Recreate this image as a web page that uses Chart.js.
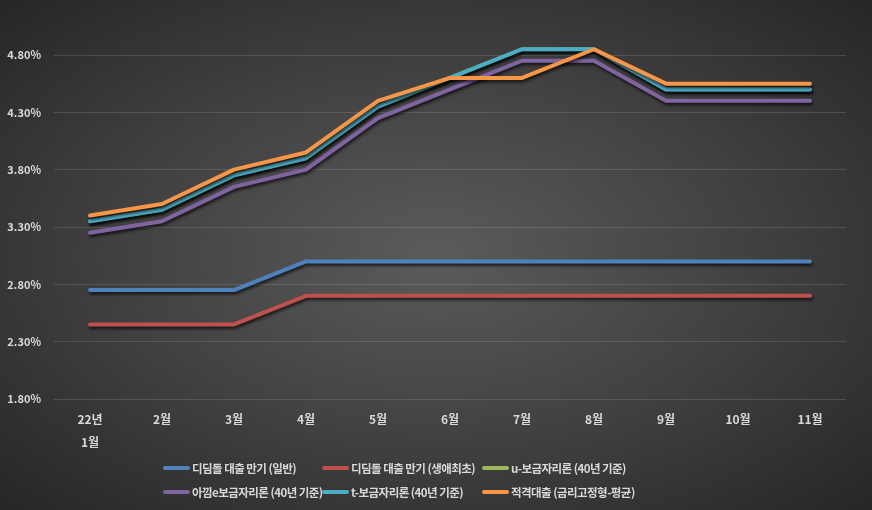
<!DOCTYPE html>
<html>
<head>
<meta charset="utf-8">
<script src="https://cdn.jsdelivr.net/npm/chart.js@4"></script>
<style>
  html, body { margin: 0; padding: 0; }
  body {
    width: 872px; height: 510px; overflow: hidden; position: relative;
    background: radial-gradient(ellipse farthest-corner at 50% 50%, #5b5b5b 0%, #3f3f3f 55%, #262626 100%);
    font-family: "Noto Sans CJK KR", "Noto Sans", sans-serif;
  }
  #wrap { position: absolute; left: 0; top: 0; width: 872px; height: 510px; }
  #legend { position: absolute; left: 0; top: 0; width: 872px; height: 510px; pointer-events: none; }
  .item { position: absolute; display: flex; align-items: center; height: 16px; color: #d9d9d9;
          font-weight: 700; font-size: 11.5px; letter-spacing: -0.55px; white-space: nowrap; }
  .swatch { width: 27px; height: 4px; border-radius: 2px; margin-right: 2px; }
</style>
</head>
<body>
<div id="wrap"><canvas id="c" width="872" height="510"></canvas></div>
<div id="legend"></div>
<script>
const categories = [["22년", "1월"], "2월", "3월", "4월", "5월", "6월", "7월", "8월", "9월", "10월", "11월"];
const seriesNames = [
  "디딤돌 대출 만기 (일반)",
  "디딤돌 대출 만기 (생애최초)",
  "u-보금자리론 (40년 기준)",
  "아낌e보금자리론 (40년 기준)",
  "t-보금자리론 (40년 기준)",
  "적격대출 (금리고정형-평균)"
];
const didimGeneral = [2.75, 2.75, 2.75, 3.00, 3.00, 3.00, 3.00, 3.00, 3.00, 3.00, 3.00];
const didimFirst   = [2.45, 2.45, 2.45, 2.70, 2.70, 2.70, 2.70, 2.70, 2.70, 2.70, 2.70];
const uBogeum      = [3.35, 3.45, 3.75, 3.90, 4.35, 4.60, 4.85, 4.85, 4.50, 4.50, 4.50];
const akkimE       = [3.25, 3.35, 3.65, 3.80, 4.25, 4.50, 4.75, 4.75, 4.40, 4.40, 4.40];
const tBogeum      = [3.35, 3.45, 3.75, 3.90, 4.35, 4.60, 4.85, 4.85, 4.50, 4.50, 4.50];
const jeokgyeok    = [3.40, 3.50, 3.80, 3.95, 4.40, 4.60, 4.60, 4.85, 4.55, 4.55, 4.55];
const yTickValues  = [1.8, 2.3, 2.8, 3.3, 3.8, 4.3, 4.8];
const yTickLabels  = ["1.80%", "2.30%", "2.80%", "3.30%", "3.80%", "4.30%", "4.80%"];

const seriesData = [didimGeneral, didimFirst, uBogeum, akkimE, tBogeum, jeokgyeok];
const colors = ["#4F81BD", "#C0504D", "#9BBB59", "#8064A2", "#4BACC6", "#F79646"];
const fontFamily = '"Noto Sans CJK KR", "Noto Sans", sans-serif';

const shadowPlugin = {
  id: 'lineShadow',
  beforeDatasetsDraw(chart) {
    const ctx = chart.ctx;
    ctx.save();
    ctx.shadowColor = 'rgba(0,0,0,0.65)';
    ctx.shadowBlur = 3;
    ctx.shadowOffsetX = 1;
    ctx.shadowOffsetY = 2.5;
  },
  afterDatasetsDraw(chart) { chart.ctx.restore(); }
};

const chart = new Chart(document.getElementById('c'), {
  type: 'line',
  data: {
    labels: categories,
    datasets: seriesData.map((d, i) => ({
      label: seriesNames[i],
      data: d,
      borderColor: colors[i],
      backgroundColor: colors[i],
      borderWidth: 4,
      pointRadius: 0,
      pointHoverRadius: 0,
      tension: 0,
      fill: false,
      clip: false,
      order: seriesData.length - i,
      borderJoinStyle: 'round',
      borderCapStyle: 'round'
    }))
  },
  options: {
    responsive: false,
    animation: false,
    devicePixelRatio: 1,
    layout: { padding: { top: 55, right: 26, left: 0, bottom: 0 } },
    plugins: { legend: { display: false }, tooltip: { enabled: false } },
    scales: {
      x: {
        type: 'category',
        offset: true,
        grid: { display: false, drawTicks: false },
        border: { display: false },
        ticks: {
          color: '#d9d9d9', padding: 9, maxRotation: 0, autoSkip: false,
          font: { family: fontFamily, size: 12, weight: 'bold', lineHeight: 1.9 }
        },
        afterFit(scale) { scale.height = 111; }
      },
      y: {
        min: 1.8, max: 4.8,
        grid: { color: 'rgba(255,255,255,0.13)', lineWidth: 1, drawTicks: false },
        border: { display: false },
        afterBuildTicks(scale) { scale.ticks = yTickValues.map(v => ({ value: v })); },
        ticks: {
          color: '#d9d9d9', padding: 13,
          font: { family: fontFamily, size: 11, weight: 'bold' },
          callback(value) {
            const idx = yTickValues.findIndex(v => Math.abs(v - value) < 1e-6);
            return idx >= 0 ? yTickLabels[idx] : '';
          }
        },
        afterFit(scale) { scale.width = 54; }
      }
    }
  },
  plugins: [shadowPlugin]
});

// HTML legend in a 3-column grid, built from the chart's datasets
const legendEl = document.getElementById('legend');
const colX = [163, 322, 482];
const rowY = [460, 484];
chart.data.datasets.forEach((ds, i) => {
  const item = document.createElement('div');
  item.className = 'item';
  item.style.left = colX[i % 3] + 'px';
  item.style.top = rowY[Math.floor(i / 3)] + 'px';
  const sw = document.createElement('span');
  sw.className = 'swatch';
  sw.style.background = ds.borderColor;
  const tx = document.createElement('span');
  tx.textContent = ds.label;
  item.appendChild(sw);
  item.appendChild(tx);
  legendEl.appendChild(item);
});
</script>
</body>
</html>
